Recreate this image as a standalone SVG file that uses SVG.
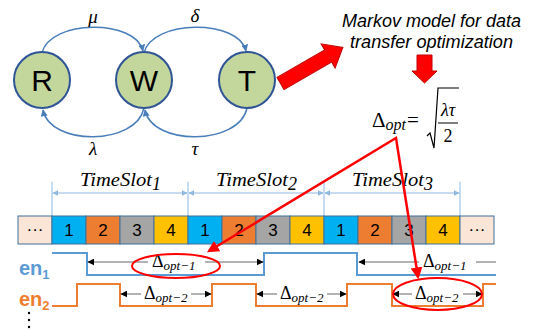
<svg xmlns="http://www.w3.org/2000/svg" width="536" height="330" viewBox="0 0 536 330">
<defs>
<style>
.node circle{fill:#c3d69b;stroke:#2f5597;stroke-width:2}
.node text{font-family:"Liberation Sans",Arial,sans-serif;font-size:30px;fill:#000;text-anchor:middle}
.arc{fill:none;stroke:#4a7ebb;stroke-width:1.5;marker-end:url(#ba)}
.greek{font-family:"Liberation Serif","DejaVu Serif",serif;font-style:italic;font-size:19px;fill:#000;text-anchor:middle}
.title{font-family:"Liberation Sans",Arial,sans-serif;font-style:italic;font-size:18px;fill:#000}
.math{font-family:"Liberation Serif","DejaVu Serif",serif;fill:#000}
.it{font-style:italic}
.cell{stroke:#41719c;stroke-width:1}
.num{font-family:"Liberation Sans",Arial,sans-serif;font-size:17px;fill:#000;text-anchor:middle}
.dim{stroke:#8fb8e0;stroke-width:1;fill:none}
.dimarrow{stroke:#8fb8e0;stroke-width:1;marker-start:url(#da);marker-end:url(#da)}
.ts{font-family:"Liberation Serif","DejaVu Serif",serif;font-style:italic;font-size:18px;fill:#000}
.tarr{stroke:#666;stroke-width:1;fill:none}
.dl{font-family:"Liberation Serif","DejaVu Serif",serif;font-size:18px;fill:#000}
.red{stroke:#ff0000;stroke-width:2.5;fill:none}
.blk{fill:#ff0000;stroke:#c00000;stroke-width:1}
.en{font-family:"Liberation Sans",Arial,sans-serif;font-weight:bold;font-size:20px}
</style>
<marker id="ba" viewBox="0 0 10 10" refX="9" refY="5" markerWidth="7" markerHeight="7" markerUnits="userSpaceOnUse" orient="auto"><path d="M0,0 L10,5 L0,10 z" fill="#4a7ebb"/></marker>
<marker id="da" viewBox="0 0 10 10" refX="9" refY="5" markerWidth="6" markerHeight="6" markerUnits="userSpaceOnUse" orient="auto-start-reverse"><path d="M0,0 L10,5 L0,10 z" fill="#8fb8e0"/></marker>
<marker id="ka" viewBox="0 0 10 10" refX="9" refY="5" markerWidth="7" markerHeight="7" markerUnits="userSpaceOnUse" orient="auto-start-reverse"><path d="M0,0 L10,5 L0,10 z" fill="#000"/></marker>
<marker id="ra" viewBox="0 0 10 10" refX="8" refY="5" markerWidth="12" markerHeight="12" markerUnits="userSpaceOnUse" orient="auto-start-reverse"><path d="M0,0 L10,5 L0,10 z" fill="#ff0000"/></marker>
</defs>
<rect width="536" height="330" fill="#fff"/>

<g id="connectors">
<path class="arc" d="M42,53 C50,19 136,19 143,51"/>
<path class="arc" d="M144,53 C152,19 239,19 246,51"/>
<path class="arc" d="M144,108 C136,146 50,146 43,110"/>
<path class="arc" d="M247,108 C239,146 152,146 145,110"/>
<text class="greek" x="93" y="23">μ</text>
<text class="greek" x="195" y="22">δ</text>
<text class="greek" x="93" y="155">λ</text>
<text class="greek" x="195" y="155">τ</text>
</g>

<g id="node-R" class="node"><circle cx="42" cy="80" r="28"/><text x="42" y="91">R</text></g>
<g id="node-W" class="node"><circle cx="144" cy="80" r="28"/><text x="144" y="91">W</text></g>
<g id="node-T" class="node"><circle cx="247" cy="80" r="28"/><text x="247" y="91">T</text></g>

<g id="big-arrow"><polygon class="blk" transform="translate(280.5,83.5) rotate(-30)" points="0,-7 55,-7 55,-14 72,0 55,14 55,7 0,7"/></g>
<g id="title">
<text class="title" x="342" y="27" textLength="179" lengthAdjust="spacingAndGlyphs">Markov model for data</text>
<text class="title" x="350" y="48" textLength="163" lengthAdjust="spacingAndGlyphs">transfer optimization</text>
</g>
<g id="down-arrow"><polygon class="blk" points="417,55 432,55 432,71 437,71 424.5,83 412,71 417,71"/></g>

<g id="formula">
<text class="math" x="372" y="127" font-size="21">Δ<tspan class="it" font-size="16" dy="3">opt</tspan></text>
<text class="math" x="407" y="127" font-size="21">=</text>
<path d="M427,136 L430,133 L434,148 L438,88 L459,88" fill="none" stroke="#000" stroke-width="1.2"/>
<text class="math it" x="448" y="116" font-size="18" text-anchor="middle">λτ</text>
<line x1="438" y1="123" x2="458" y2="123" stroke="#000" stroke-width="1"/>
<text class="math" x="448" y="142" font-size="18" text-anchor="middle">2</text>
</g>

<g id="timeslots">
<line class="dim" x1="52" y1="182" x2="52" y2="216"/>
<line class="dim" x1="188" y1="182" x2="188" y2="216"/>
<line class="dim" x1="324" y1="182" x2="324" y2="216"/>
<line class="dim" x1="460" y1="182" x2="460" y2="216"/>
<line class="dimarrow" x1="53" y1="193" x2="187" y2="193"/>
<line class="dimarrow" x1="189" y1="193" x2="323" y2="193"/>
<line class="dimarrow" x1="325" y1="193" x2="459" y2="193"/>
<text class="ts" x="80" y="186" textLength="72" lengthAdjust="spacingAndGlyphs">TimeSlot</text><text class="ts" x="152" y="190" font-size="12" font-style="normal">1</text>
<text class="ts" x="216" y="186" textLength="72" lengthAdjust="spacingAndGlyphs">TimeSlot</text><text class="ts" x="288" y="190" font-size="12" font-style="normal">2</text>
<text class="ts" x="352" y="186" textLength="72" lengthAdjust="spacingAndGlyphs">TimeSlot</text><text class="ts" x="424" y="190" font-size="12" font-style="normal">3</text>
</g>

<g id="cells">
<rect class="cell" x="18" y="216" width="34" height="28" fill="#fbe5d6"/>
<rect class="cell" x="52" y="216" width="34" height="28" fill="#00b0f0"/>
<rect class="cell" x="86" y="216" width="34" height="28" fill="#ed7d31"/>
<rect class="cell" x="120" y="216" width="34" height="28" fill="#a5a5a5"/>
<rect class="cell" x="154" y="216" width="34" height="28" fill="#ffc000"/>
<rect class="cell" x="188" y="216" width="34" height="28" fill="#00b0f0"/>
<rect class="cell" x="222" y="216" width="34" height="28" fill="#ed7d31"/>
<rect class="cell" x="256" y="216" width="34" height="28" fill="#a5a5a5"/>
<rect class="cell" x="290" y="216" width="34" height="28" fill="#ffc000"/>
<rect class="cell" x="324" y="216" width="34" height="28" fill="#00b0f0"/>
<rect class="cell" x="358" y="216" width="34" height="28" fill="#ed7d31"/>
<rect class="cell" x="392" y="216" width="34" height="28" fill="#a5a5a5"/>
<rect class="cell" x="426" y="216" width="34" height="28" fill="#ffc000"/>
<rect class="cell" x="460" y="216" width="34" height="28" fill="#fbe5d6"/>
<text class="num" x="35" y="235">···</text>
<text class="num" x="69" y="236">1</text>
<text class="num" x="103" y="236">2</text>
<text class="num" x="137" y="236">3</text>
<text class="num" x="171" y="236">4</text>
<text class="num" x="205" y="236">1</text>
<text class="num" x="239" y="236">2</text>
<text class="num" x="273" y="236">3</text>
<text class="num" x="307" y="236">4</text>
<text class="num" x="341" y="236">1</text>
<text class="num" x="375" y="236">2</text>
<text class="num" x="409" y="236">3</text>
<text class="num" x="443" y="236">4</text>
<text class="num" x="477" y="235">···</text>
</g>

<g id="signals">
<path d="M52,253 H87 V275 H264 V253 H357 V275 H496" fill="none" stroke="#5b9bd5" stroke-width="2"/>
<path d="M52,306 H77 V284 H120 V306 H212 V284 H256 V306 H347 V284 H392 V306 H483 V284 H496" fill="none" stroke="#ed7d31" stroke-width="2"/>
<text class="en" x="19" y="275" fill="#5b9bd5">en<tspan font-size="13" dy="4">1</tspan></text>
<text class="en" x="19" y="306" fill="#ed7d31">en<tspan font-size="13" dy="4">2</tspan></text>
<g fill="#000"><circle cx="29" cy="313" r="1.2"/><circle cx="29" cy="320" r="1.2"/><circle cx="29" cy="327" r="1.2"/></g>
</g>

<g id="intervals">
<line class="tarr" x1="88" y1="262" x2="148" y2="262" marker-start="url(#ka)"/>
<line class="tarr" x1="205" y1="262" x2="263" y2="262" marker-end="url(#ka)"/>
<text class="dl" x="152" y="267">Δ<tspan class="it" font-size="13" dy="3">opt−1</tspan></text>
<line class="tarr" x1="359" y1="262" x2="419" y2="262" marker-start="url(#ka)"/>
<line class="tarr" x1="476" y1="262" x2="496" y2="262"/>
<text class="dl" x="423" y="267">Δ<tspan class="it" font-size="13" dy="3">opt−1</tspan></text>
<line class="tarr" x1="121" y1="294" x2="141" y2="294" marker-start="url(#ka)"/>
<line class="tarr" x1="191" y1="294" x2="211" y2="294" marker-end="url(#ka)"/>
<text class="dl" x="144" y="299">Δ<tspan class="it" font-size="13" dy="3">opt−2</tspan></text>
<line class="tarr" x1="257" y1="294" x2="277" y2="294" marker-start="url(#ka)"/>
<line class="tarr" x1="327" y1="294" x2="346" y2="294" marker-end="url(#ka)"/>
<text class="dl" x="280" y="299">Δ<tspan class="it" font-size="13" dy="3">opt−2</tspan></text>
<line class="tarr" x1="393" y1="294" x2="412" y2="294" marker-start="url(#ka)"/>
<line class="tarr" x1="463" y1="294" x2="482" y2="294" marker-end="url(#ka)"/>
<text class="dl" x="415" y="299">Δ<tspan class="it" font-size="13" dy="3">opt−2</tspan></text>
</g>

<g id="highlights">
<ellipse cx="176" cy="266" rx="44" ry="12" fill="none" stroke="#ff0000" stroke-width="2"/>
<ellipse cx="437.5" cy="294" rx="44.5" ry="16" fill="none" stroke="#ff0000" stroke-width="2"/>
<polyline class="red" points="209,251 396,138 418,277" marker-start="url(#ra)" marker-end="url(#ra)"/>
</g>
</svg>
